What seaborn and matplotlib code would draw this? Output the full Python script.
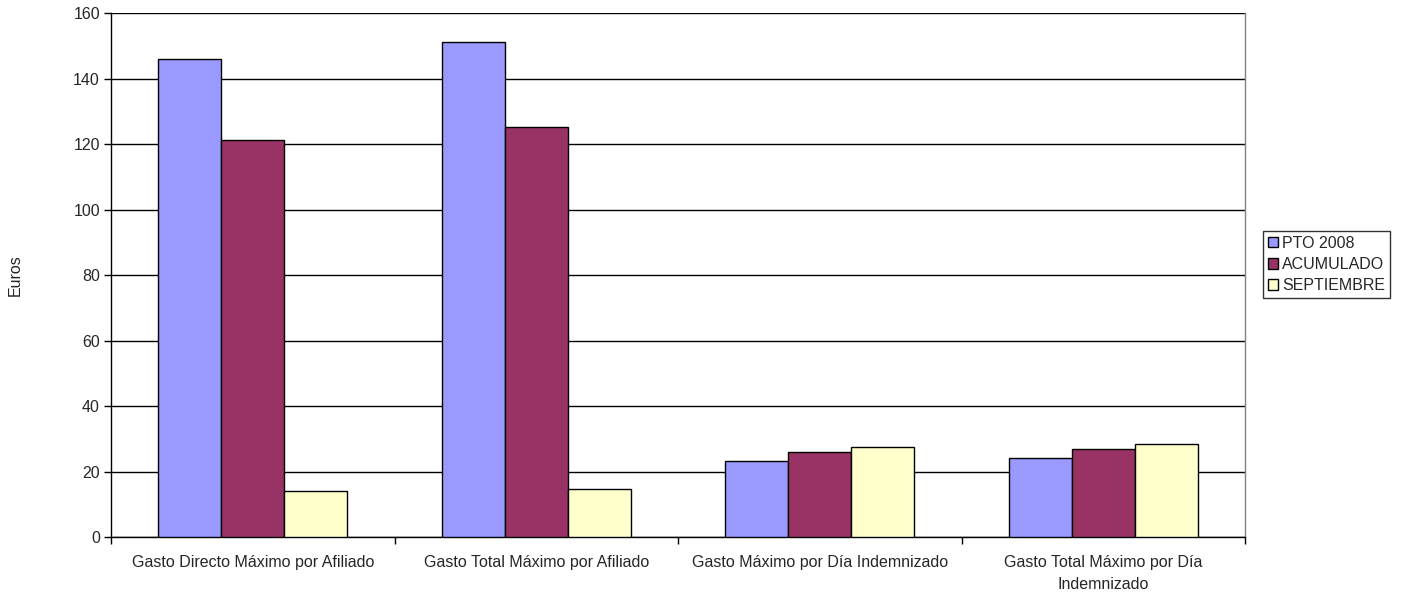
import pandas as pd
import numpy as np
import matplotlib
matplotlib.use('Agg')
import matplotlib.pyplot as plt
import seaborn as sns

categories = [
    'Gasto Directo Máximo por Afiliado',
    'Gasto Total Máximo por Afiliado',
    'Gasto Máximo por Día Indemnizado',
    'Gasto Total Máximo por Día\nIndemnizado',
]
series_names = ['PTO 2008', 'ACUMULADO', 'SEPTIEMBRE']
pto_2008 = [146.0, 151.1, 23.3, 24.0]
acumulado = [121.3, 125.3, 26.1, 26.9]
septiembre = [14.1, 14.6, 27.6, 28.5]
colors = ['#9999FF', '#993366', '#FFFFCC']

df = pd.DataFrame({
    'categoria': categories * 3,
    'serie': np.repeat(series_names, len(categories)),
    'valor': pto_2008 + acumulado + septiembre,
})

sns.set_style('white')
plt.rcParams['font.family'] = ['Liberation Sans', 'DejaVu Sans']

fig = plt.figure(figsize=(14.11, 5.92), dpi=100)
ax = fig.add_axes([0.0787, 0.0929, 0.8037, 0.8851])

sns.barplot(data=df, x='categoria', y='valor', hue='serie', hue_order=series_names,
            palette=colors, width=0.667, gap=0, edgecolor='black', linewidth=1,
            saturation=1, ax=ax, zorder=3)

ax.set_ylim(0, 160)
ax.set_xlim(-0.5, len(categories) - 0.5)
ax.set_yticks(range(0, 161, 20))
ax.yaxis.grid(True, color='black', linewidth=1)
ax.set_axisbelow(True)
ax.tick_params(axis='y', direction='out', length=5, width=1, color='black',
               labelsize=11.5, left=True, pad=3)

# category labels centred, tick marks on the boundaries
ax.set_xticks(range(len(categories)))
ax.set_xticklabels(categories, fontsize=11.5, ha='center', linespacing=1.55)
ax.tick_params(axis='x', which='major', length=0, pad=13)
ax.set_xticks(np.arange(-0.5, len(categories), 1.0), minor=True)
ax.tick_params(axis='x', which='minor', direction='out', length=5, width=1,
               color='black', bottom=True)

ax.set_xlabel('')
ax.set_ylabel('Euros', fontsize=11.5, labelpad=36)

for side in ['left', 'bottom']:
    ax.spines[side].set_color('black')
    ax.spines[side].set_linewidth(1)
ax.spines['top'].set_visible(False)
ax.spines['right'].set_color('#808080')
ax.spines['right'].set_linewidth(1)

leg = ax.legend(loc='center left', bbox_to_anchor=(1.016, 0.52), frameon=True,
                fancybox=False, edgecolor='black', fontsize=11.5,
                handlelength=0.65, handleheight=0.65, handletextpad=0.25,
                labelspacing=0.4, borderpad=0.3, borderaxespad=0)
leg.get_frame().set_linewidth(1)

fig.savefig('out.png', dpi=100)
